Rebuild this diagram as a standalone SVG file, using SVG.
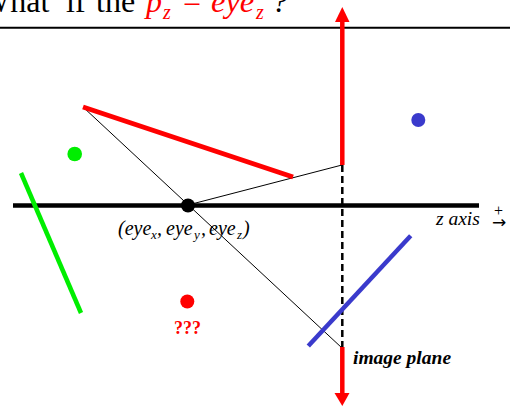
<svg xmlns="http://www.w3.org/2000/svg" width="510" height="407" viewBox="0 0 510 407">
<style>
.serif{font-family:"Liberation Serif","Times New Roman",serif;}
.it{font-style:italic;}
.red{fill:#ff0000;}
.blk{fill:#000;}
.thin{stroke:#000;stroke-width:1;fill:none;}
</style>
<rect width="510" height="407" fill="#fff"/>
<g id="title">
  <text class="serif blk" font-size="32" y="12"><tspan x="-20">What</tspan><tspan x="66">if</tspan><tspan x="96">the</tspan></text>
  <text class="serif red it" font-size="32" x="146" y="12">p</text>
  <text class="serif red it" font-size="20" x="163" y="19">z</text>
  <text class="serif red" font-size="32" x="183" y="12">=</text>
  <text class="serif red it" font-size="32.5" x="211" y="12">eye</text>
  <text class="serif red it" font-size="20" x="256" y="19">z</text>
  <text class="serif blk it" font-size="32" x="272" y="12">?</text>
  <line x1="0" y1="27.7" x2="510" y2="27.7" stroke="#000" stroke-width="2"/>
</g>
<g id="connectors">
  <line class="thin" x1="83" y1="107" x2="342" y2="348"/>
  <line class="thin" x1="188" y1="205" x2="342" y2="165"/>
  <line x1="342.3" y1="165" x2="342.3" y2="347" stroke="#000" stroke-width="2.5" stroke-dasharray="7,4"/>
</g>
<g id="z-axis">
  <line x1="13" y1="205.5" x2="479" y2="205.5" stroke="#000" stroke-width="4.5"/>
  <text class="serif blk it" font-size="19.5" x="436" y="225">z axis</text>
  <text class="serif blk" font-size="16" x="494" y="216">+</text>
  <text font-family="DejaVu Sans, sans-serif" fill="#000" font-size="17" x="492" y="228">→</text>
</g>
<g id="image-plane">
  <line x1="342.3" y1="21" x2="342.3" y2="165" stroke="#ff0000" stroke-width="4.5"/>
  <polygon points="342.3,7 335,22 349.5,22" fill="#ff0000"/>
  <line x1="342.3" y1="347" x2="342.3" y2="394" stroke="#ff0000" stroke-width="4.5"/>
  <polygon points="334.5,393 349.5,393 342.3,406" fill="#ff0000"/>
  <text class="serif blk it" font-weight="bold" font-size="19.5" x="353" y="364">image plane</text>
</g>
<g id="eye">
  <circle cx="188" cy="205.5" r="7" fill="#000"/>
  <text class="serif blk it" font-size="20"><tspan x="118" y="235">(eye</tspan><tspan x="151" y="239" font-size="13">x</tspan><tspan x="157" y="235">,</tspan><tspan x="166" y="235">eye</tspan><tspan x="194" y="239" font-size="13">y</tspan><tspan x="201" y="235">,</tspan><tspan x="209" y="235">eye</tspan><tspan x="237" y="239" font-size="13">z</tspan><tspan x="243" y="235">)</tspan></text>
</g>
<g id="red-object">
  <line x1="83" y1="107" x2="293" y2="177" stroke="#ff0000" stroke-width="5"/>
</g>
<g id="green-object">
  <circle cx="74.7" cy="154" r="7.3" fill="#00ee00"/>
  <line x1="21" y1="173" x2="81" y2="313" stroke="#00ee00" stroke-width="4.5"/>
</g>
<g id="blue-object">
  <circle cx="418.3" cy="120" r="7" fill="#3a3acc"/>
  <line x1="410.7" y1="235.7" x2="308.3" y2="346" stroke="#3a3acc" stroke-width="4.5"/>
</g>
<g id="unknown-point">
  <circle cx="187.3" cy="301.5" r="7" fill="#ff0000"/>
  <text class="serif red" font-weight="bold" font-size="18" x="187.5" y="334" text-anchor="middle">???</text>
</g>
</svg>
